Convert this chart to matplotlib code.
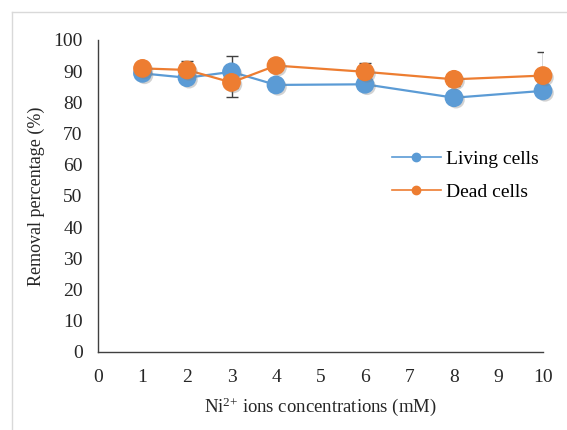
import numpy as np
import matplotlib.pyplot as plt
import matplotlib.patheffects as pe
from matplotlib.lines import Line2D

# Data
conc = [1, 2, 3, 4, 6, 8, 10]
living = [89.3, 87.9, 89.8, 85.6, 85.8, 81.5, 83.7]
living_err = [1.0, 1.7, 5.1, 1.0, 1.0, 1.7, 1.0]
dead = [90.9, 90.4, 86.4, 91.8, 89.8, 87.4, 88.6]
dead_err_low = [1.0, 2.9, 4.8, 1.0, 2.7, 2.0, 3.0]
dead_err_high = [1.0, 2.9, 4.8, 1.0, 2.7, 2.0, 7.4]

blue = "#5B9BD5"
orange = "#ED7D31"

plt.rcParams["font.family"] = ["Liberation Serif", "DejaVu Serif"]
plt.rcParams["mathtext.fontset"] = "custom"
plt.rcParams["mathtext.rm"] = "Liberation Serif"
plt.rcParams["mathtext.it"] = "Liberation Serif"

fig = plt.figure(figsize=(5.67, 4.30), dpi=100)
W, H = 567, 430

# light chart-area border (left and top)
fig.add_artist(Line2D([12 / W, 12 / W], [0, 1 - 12 / H], color="#D9D9D9", lw=1))
fig.add_artist(Line2D([12 / W, 1], [1 - 12 / H, 1 - 12 / H], color="#D9D9D9", lw=1))

ax = fig.add_axes([98 / W, 1 - 352 / H, 445 / W, 312 / H])
ax.set_xlim(0, 10)
ax.set_ylim(0, 100)
ax.set_xticks(range(0, 11))
ax.set_yticks(range(0, 101, 10))
for s in ["top", "right"]:
    ax.spines[s].set_visible(False)
for s in ["left", "bottom"]:
    ax.spines[s].set_color("#404040")
    ax.spines[s].set_linewidth(1.0)
ax.tick_params(length=0, labelsize=14, colors="#262626")
ax.tick_params(axis="y", pad=11)
ax.tick_params(axis="x", pad=12)
ax.set_xlabel("Ni$^{2{+}}$ ions concentrations (mM)", fontsize=13.5, color="#262626", labelpad=7)
ax.set_ylabel("Removal percentage (%)", fontsize=13, color="#262626", labelpad=6)

shadow = [pe.SimplePatchShadow(offset=(1.5, -1.5), shadow_rgbFace="gray", alpha=0.35), pe.Normal()]

ax.errorbar(conc, living, yerr=living_err, fmt="none", ecolor="#404040", elinewidth=1,
            capsize=4.3, capthick=1, zorder=3)
ax.errorbar(conc, dead, yerr=[dead_err_low, dead_err_high], fmt="none", ecolor="#404040",
            elinewidth=1, capsize=4.3, capthick=1, zorder=3)

ax.plot(conc, living, color=blue, lw=1.6, zorder=4, clip_on=False)
ax.plot(conc, living, "o", color=blue, ms=12.5, zorder=5, clip_on=False, path_effects=shadow)
ax.plot(conc, dead, color=orange, lw=1.6, zorder=6, clip_on=False)
ax.plot(conc, dead, "o", color=orange, ms=12.5, zorder=7, clip_on=False, path_effects=shadow)

# legend
handles = [Line2D([], [], color=blue, lw=1.2, marker="o", ms=6),
           Line2D([], [], color=orange, lw=1.2, marker="o", ms=6)]
fig.legend(handles, ["Living cells", "Dead cells"], loc="upper left",
           bbox_to_anchor=(392 / W, 1 - 150 / H), frameon=False, fontsize=14,
           handlelength=2.5, handletextpad=0.3, labelspacing=0.8, borderpad=0,
           borderaxespad=0)

fig.savefig("out.png", dpi=100)
